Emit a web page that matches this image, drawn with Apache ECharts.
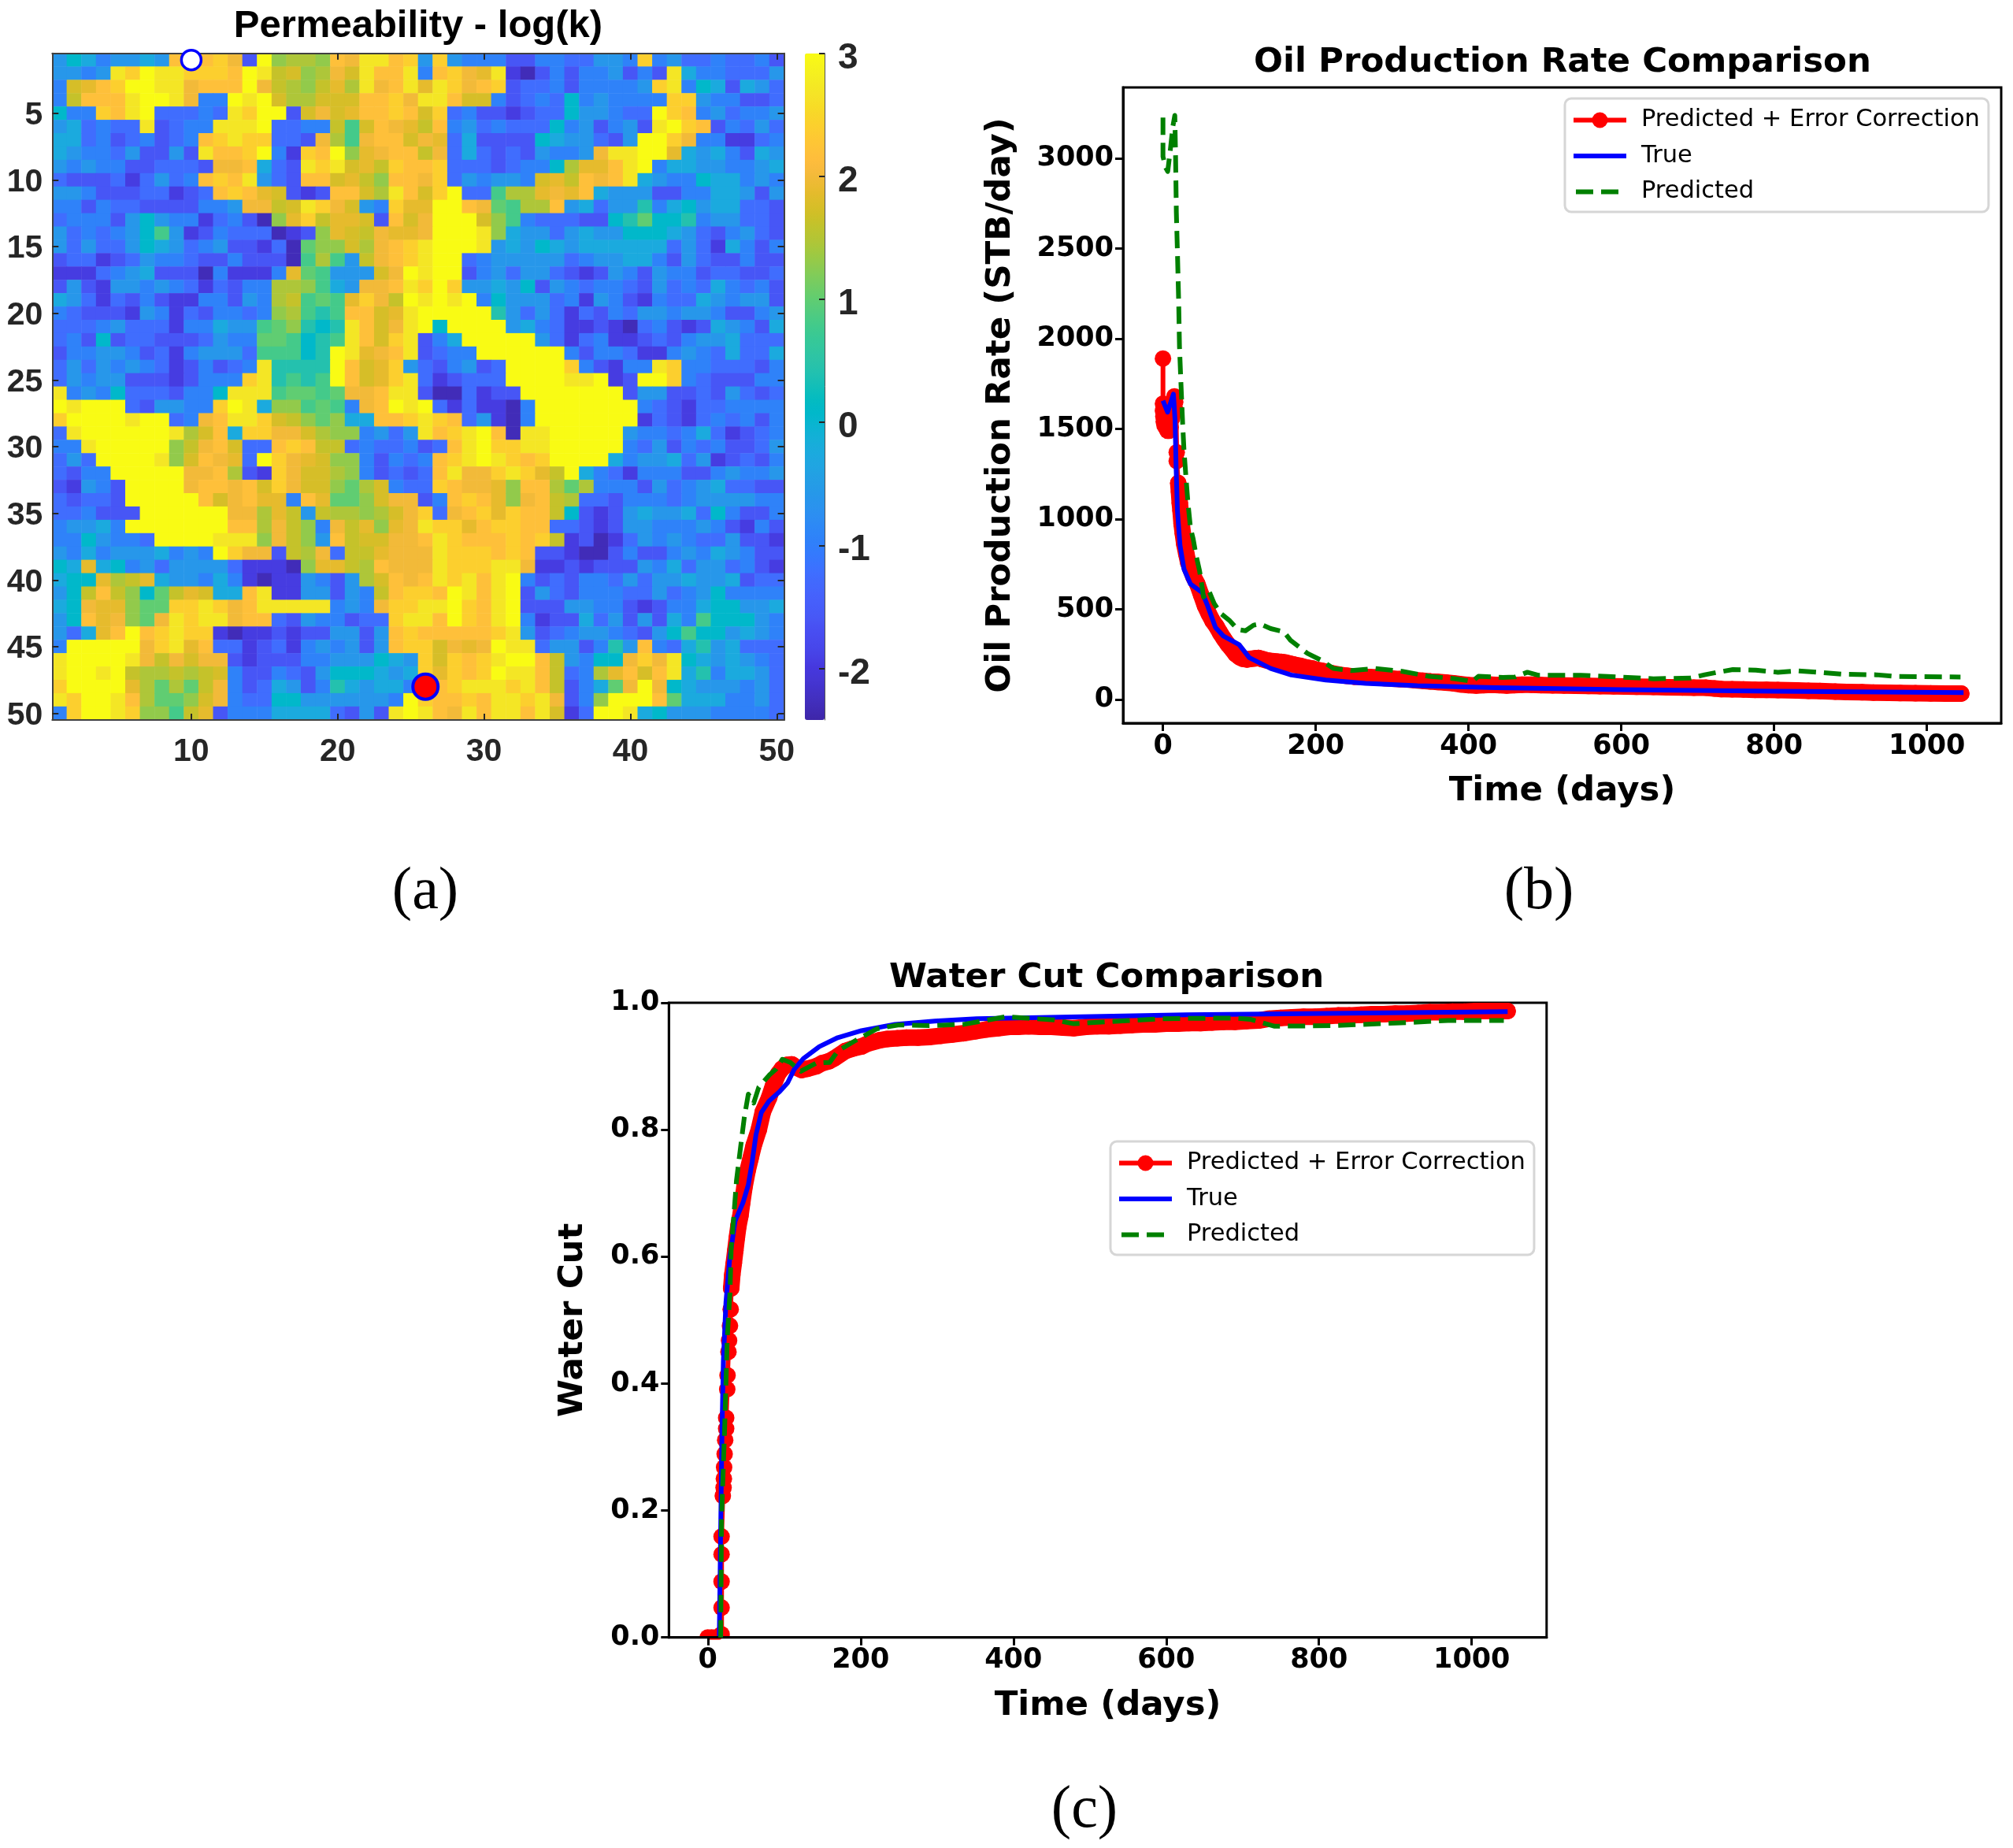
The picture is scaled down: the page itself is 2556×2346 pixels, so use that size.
<!DOCTYPE html>
<html><head><meta charset="utf-8">
<style>html,body{margin:0;padding:0;background:#fff}#c{width:2556px;height:2346px}</style>
<script src="https://cdn.jsdelivr.net/npm/echarts@6/dist/echarts.min.js"></script>
</head><body><div id="c"></div>
<script>
// ---- Permeability map: each letter is one cell; permLevels gives its log(k)
const permLevels = {A:-2.3,B:-1.95,C:-1.6,D:-1.25,E:-0.95,F:-0.6,G:-0.25,H:0.07,I:0.42,J:0.8,K:1.0,L:1.3,M:1.45,N:1.62,O:1.75,P:1.88,Q:2.0,R:2.18,S:2.4,T:2.7,U:3.0};
const permRows = [
"FHGEFFGFRSRSQCULMMLRQTTRS|FSFEEECCEEDDFFESEFDDEDDEC",
"FFEFTSUTTSSSRUTNOLMQOTRRT|ERSQPTBACECEEFCECTGEEDDDF",
"EOPRSUUTTQRRRUQNMLNPMTQRT|PTSQRSCDDECEEEEFSTEHGCGFD",
"ENRRRTUUTQEEUTUOMMOOORRSQ|TTROOECDEDHEFEEEESSFEECCD",
"HEESRTUDDDEDTSUUCOQOPRRSR|OSDECCBCDDHFFEDDUSREFDEEF",
"FGDEDDTCDEETTTUDDEENJORQP|NREFDEDDDHEFCEFCTUSRCEDFD",
"GGDECDECDERSTSSDDCQMJQRRO|QPDGCCCCHGFFDCFUUSQEEBBDE",
"GFEEDFCCFCTRRSUEBSRULPQRR|NQDGDCDCFEEFQTTUUPGFGECGF",
"FEFEECCDDDCQQRGDCTSTOPNSR|RSDDDCDEEHMPPRTUEGGFFEEFG",
"DCCCDBDFDERSRTFDCRROPNLRR|QSDFEFFEOPNRQRTGFEEHGGEFE",
"FFECCCDDBCDRSRPOCBCRROMTR|OSUDDJMMPQPRGFFFCCEEGGFCF",
"EECEDDCCCCEEFQQNOTSQOFESP|PUURQKJMMRFGDFFIEGHFGGDDC",
"DEEECFHFEEBDECALPSNPPOCRO|QUUUOLJEDDDCCHIKHHIEFFDDC",
"FDEDEFHJFBCEDDDABCLPONQPP|QUUUTLGFFDFGFFHHHGFDCEFDC",
"FDFDDFHGFDEFCCBDAKLLOMQRS|TUUUTFGFHGFGGGGGGDFDBGECE",
"CDDBCDFEEDCCECCCAJMJFNQRS|TUUDEFFFFFDEFFGGECFDCCECC",
"BBBDEFGCCCAEBBBEPKJFFFOQU|TUUCEFDFFDCBCFECFEECDDCCD",
"CFCBFFEFEDBDCEEMMLJGFQQRT|SUSFFGFHCFEDEEDCFDEDGEDEC",
"GFDBDCECBBEECFEMNJKJPSQNU|TUTUEHFFFDEBFECBEDDGFEFFC",
"EDCCCBFEBDCEEDELMJIJRROPT|UUUUUIFDFDBDCEDFFEFFECCEF",
"DDDEFDDDBEEGFFJKLIHITROQT|UHUUUUFGEDBBCBADECBCGFECG",
"DECHCDDCCCDFEEKKJHIJTROST|CEGUUUUUFDBDEBBCDCEFFGDDD",
"CEEFFECDBEFFFDJJJHIUTPQRT|CDEEUUUUUUECEEDBBEFEDGDDG",
"DFDFEFEDBCECDETIIIIUROPSF|DCEFCDUUUUSECBEETSEEDDDCE",
"DFEFFCCCBCEEESTIJIJUROPST|DBCDDDUUUUTTUBCUUSEDCCCEE",
"TEFEHDDDCEEHTTTJKKJKQQRTT|CAADBCCUUUUUUUCFFCCDCFDCD",
"UTUUUDCFFEESUTGLLJKJEQRUT|UDBDBBAEUUUUUUUEDCBDDEEEE",
"SUUUUTUUDEQRTTSONLKLGGRRS|TSRDFBAEUUUUUUUBDCBDEDECE",
"DTUUUUUUTMORGSSQQOMLLEFDF|TRSTURATTUUUUUFEEDEGDBCDE",
"EETUUUUULNQRODDRSRNNDEDDE|CDRTUSSTTUUUUUEDFCEDECCDF",
"DFDUUUUTLORQPDUSQPOLLECED|ERSTUTSRSUUUUGEFFGDFBCDCE",
"DCEEUUUUUQQRMCBSQOOMLECDC|DRTQQSTSPNUGEDBEEECCEFEEF",
"CBFECUUUUQRRQROSQOOLKMOED|DSRQQPLRRMKMEEECFDEFGDDCC",
"DCDDCUUUUUROQRPPERPKKLOQQ|CERSRPLQRNMDDCEEEDEFFFFEE",
"DDECCCUUUUUUQQMPNFNMMLMOQ|SDQRSPSRRNHCBCFGFFGDHECCE",
"EFFGEUUUUUUURRMQNLEQNPLPQ|TSSPRSSRRDDCBCFFEEEFECBEC",
"EEHFEEDUUUUTTTLQNLFRNOOQQ|RTSRRRSRSNBCABDFEFEDDFCCB",
"FEGEFFFGEFEUSQQCNMQDNNPQQ|QTSSSRSRCCBAACECCEFEGFECC",
"HGPGHEFDFFFFDBBBALPPNMRQQ|QTSSSTTQBBCBCCCFEGDFFDECB",
"GHHPMNPGFFEGEBABBFECFMORQ|RTSTRTUECDCEEDFDFFGFFGCDD",
"FHNRNLHKNPOGGRTBBFFCFENRS|SRUTRTUCFDCEEEDDFDEFHEEEE",
"GHQPPLKKSSTSQRTTTTTEFEQSS|TTUSRTUCCCFFEECBCEEGHHFFG",
"FHRPQLKQTSTTQRRDCFEECDDST|TRUSRTUEBCCGDFCFCGEJHHHFE",
"FDGPRURSTSSBABBCBCCFFCFRS|RRRRRSTFCDEFFEDCFHJHHFGFE",
"EUUUUUQSTPRDDBCDBEFEFCFRS|SOQPQUTTDFFCEIFREDGIFGDDD",
"TUUUUTQNQOQQCBCCCEEFFFHGF|SOSRSTUURNFEHHQSQTHGFGFED",
"TUUTUNMMNMNOECCEDCFHHHGFG|SPSRSUTTRNDEMPRORTGIEGGFD",
"SUUUUPMKMKNQECDGFCEIGFGGE|SRSTTTSTRNCEGKQUQHGFFFEFD",
"TSUUTRMKKLOQEDDHHFFFFFFEU|SRRSRTTSTQCELUUURKGGGEEFD",
"ESUUTSLLJNPCEEEGGGGDCFCTU|TRQTRTTRTOBDUUTGHFFFEEEED"
];
const injectorWell = [10, 1];
const producerWell = [26, 48];
const permMin = -2.42, permMax = 3;
const permBarTicks = [3, 2, 1, 0, -1, -2];
const parula = ["#3e26a8","#402ab4","#4230bf","#4332cb","#4537d5","#4638de","#4741e5","#4747eb","#484cf0","#4852f4","#475af7","#465efb","#4563fc","#4269fd","#3e6fff","#3875fe","#327cfc","#2f81f9","#2d87f7","#2d8cf3","#2b92ef","#2796eb","#259be7","#239fe4","#20a5e2","#1ca9df","#18adda","#11b1d6","#08b5d0","#01b8ca","#02bac3","#0bbdbc","#19bfb5","#24c1ae","#2cc3a7","#31c69f","#37c897","#3fca8e","#4acb84","#57cc7a","#63cd6f","#72cc64","#80cc59","#8fca4e","#9dc942","#aec639","#b9c431","#c5c22a","#d1bf27","#dcbd29","#e6bb2d","#efba36","#f8ba3d","#febd3c","#fec338","#fec833","#fccf2e","#f9d52a","#f7dc26","#f5e327","#f4e924","#f5ef20","#f7f51b","#f9fb14"];
const mapAxisValues = Array.from({length: 50}, (_, i) => String(i + 1));

// ---- Oil production rate, [day, STB/day]
const oilRedPoints = [[0,1890],[0,1640],[0,1600],[0.5,1570],[1,1540],[2,1520],[4,1505],[6,1490],[8,1490],[10,1510],[12,1560],[14,1640],[15,1680],[16,1650],[17,1600],[18,1370],[18,1322],[20,1200],[21,1150],[22,1090],[23,1047],[24.4,975],[26,920],[28,860],[30.6,807],[33,760],[36,725],[40,680],[45,640],[50,580],[55,520],[60,475],[65,435],[70,405],[75,368],[80,335],[85,305],[90,280],[95,252],[100,235],[105,225],[110,222],[115,225],[120,228],[125,230],[130,224],[135,218],[140,214],[145,212],[150,210],[155,208],[160,205],[165,200],[170,195],[175,190],[180,186],[185,180],[190,176],[195,172],[200,166],[210,157],[220,146],[230,138],[240,132],[250,127],[260,125],[270,124],[280,122],[290,119],[300,116],[310,113],[320,111],[330,107],[340,104],[350,100],[360,97],[370,94],[380,90],[390,84],[400,80],[410,78],[420,80],[430,82],[440,80],[450,78],[460,80],[470,82],[482,82],[495,80],[510,79],[525,78],[540,76],[557,75],[572,74],[590,73],[605,72],[620,71],[642,70],[660,68],[680,67],[695,66],[711,65],[722,61],[731,58],[745,57],[760,56],[775,54],[790,53],[805,52],[830,50],[845,48],[860,47],[880,44],[895,42],[915,40],[930,38],[950,37],[965,36],[985,35],[1005,34],[1025,33],[1045,33]];
const oilTruePoints = [[0,1657],[6,1593],[13.7,1693],[15.8,1550],[17.2,1286],[18.9,1047],[22.3,855],[27.5,723],[36,640],[51.5,592],[58.4,520],[68.7,400],[79,352],[99.7,304],[113,232],[141,172],[168,136],[213,108],[265,90],[333,76],[436,66],[600,55],[800,46],[1048,38]];
const oilPredPoints = [[0,3226],[0,3010],[3.4,2950],[6.2,2927],[9.6,3046],[13,3178],[15.5,3238],[16.5,3010],[17.5,2700],[18.9,2484],[20.6,2196],[21.6,1957],[23.4,1765],[25.8,1526],[27.5,1382],[30,1238],[32.6,1095],[36,951],[39.5,891],[43,807],[48,711],[51.5,616],[53,568],[60,604],[67,532],[75.6,477],[87.6,436],[98,388],[108,381],[118.6,412],[127,419],[141,393],[158,376],[167,328],[189,256],[206,220],[223,172],[247,160],[278,172],[313,156],[348,129],[383,115],[405,100],[413,129],[445,122],[461,125],[477,151],[492,134],[547,134],[582,128],[642,115],[691,119],[709,137],[726,151],[746,166],[776,163],[805,151],[830,159],[865,149],[890,140],[934,137],[959,128],[1044,125]];
const oilXTicks = [0,200,400,600,800,1000];
const oilYTicks = [0,500,1000,1500,2000,2500,3000];

// ---- Water cut, [day, fraction]
const wcRedPoints = [[0,0],[5,0],[10,0],[15,0],[18,0.005],[18,0.047],[18,0.088],[18,0.131],[18,0.159],[19.6,0.223],[20.6,0.236],[21,0.25],[21.3,0.268],[22,0.289],[22.7,0.311],[24,0.329],[24,0.346],[25.4,0.391],[25.8,0.413],[27,0.45],[27.8,0.468],[29,0.491],[29.9,0.517],[30.6,0.55],[32,0.571],[34,0.59],[36,0.61],[38,0.63],[40,0.648],[42.6,0.664],[45,0.685],[48,0.71],[52,0.735],[56,0.755],[60,0.775],[66.7,0.8],[72,0.828],[80,0.85],[85,0.868],[92,0.888],[97,0.896],[103,0.902],[110,0.903],[116,0.898],[123,0.894],[130,0.896],[142,0.9],[150,0.905],[159,0.908],[165,0.912],[180,0.924],[190,0.928],[201,0.931],[210,0.936],[225,0.941],[235,0.943],[248,0.944],[260,0.945],[275,0.945],[290,0.946],[305,0.948],[320,0.95],[335,0.952],[350,0.955],[365,0.958],[380,0.96],[395,0.962],[406,0.962],[420,0.963],[435,0.962],[450,0.962],[465,0.961],[479,0.96],[495,0.962],[510,0.963],[525,0.963],[540,0.964],[555,0.965],[570,0.966],[585,0.966],[600,0.967],[615,0.967],[630,0.968],[645,0.968],[660,0.969],[675,0.97],[690,0.97],[705,0.971],[721,0.972],[735,0.975],[750,0.976],[765,0.977],[780,0.978],[795,0.978],[810,0.979],[825,0.98],[840,0.98],[855,0.981],[870,0.982],[885,0.982],[900,0.983],[915,0.983],[930,0.984],[945,0.985],[960,0.985],[975,0.986],[990,0.986],[1005,0.987],[1020,0.987],[1035,0.987],[1047,0.987]];
const wcTruePoints = [[15,0],[17,0.186],[18.6,0.329],[20.3,0.435],[23.7,0.528],[28.9,0.6],[35.7,0.656],[46,0.685],[53,0.713],[58,0.749],[63,0.792],[70,0.827],[80,0.845],[94,0.86],[104.5,0.874],[113,0.895],[125,0.912],[146,0.931],[170,0.945],[201,0.956],[245,0.966],[297,0.971],[352,0.975],[626,0.981],[1047,0.986]];
const wcPredPoints = [[16.8,0],[17.9,0.186],[22,0.329],[25.4,0.471],[28.9,0.542],[30.6,0.614],[34,0.664],[37.5,0.72],[42.6,0.77],[47.8,0.82],[53,0.856],[60,0.842],[66.7,0.867],[80.4,0.886],[89,0.895],[97.6,0.911],[108,0.906],[121.6,0.892],[142,0.905],[159.5,0.906],[170,0.924],[194,0.941],[221,0.959],[249,0.965],[290,0.964],[335,0.966],[390,0.978],[453,0.973],[479,0.967],[595,0.975],[689,0.976],[710,0.974],[742,0.963],[816,0.964],[900,0.968],[969,0.972],[1042,0.972]];
const wcXTicks = [0,200,400,600,800,1000];
const wcYTicks = [0,0.2,0.4,0.6,0.8,1.0];
const legendNames = ["Predicted + Error Correction","True","Predicted"];
const captions = ["(a)","(b)","(c)"];

// ---- assemble
const permCells = [];
permRows.forEach((row, r) => {
  row.replace("|", "").split("").forEach((ch, c) => permCells.push([c, r, permLevels[ch]]));
});
// the parts of the red series where the markers run together into a solid band
const oilRedBand = oilRedPoints.filter(p => p[0] >= 20);
const wcRedBand = wcRedPoints.filter(p => p[0] >= 30.6);
const MAT = '"Liberation Sans", Arial, sans-serif', MPL = '"DejaVu Sans", sans-serif';
const matDark = '#262626';
const every = n => (i) => (i + 1) % n === 0;
const mapXAxis = (pos, labels) => ({gridIndex:0, type:'category', position:pos, data:mapAxisValues, z:5, boundaryGap:true,
  axisLine:{show:true,onZero:false,lineStyle:{color:'#404040',width:2}},
  axisTick:{show:true,inside:true,length:8,alignWithLabel:true,interval:every(10),lineStyle:{color:matDark,width:2}},
  axisLabel:{show:labels,interval:every(10),fontFamily:MAT,fontWeight:'bold',fontSize:41,color:matDark,margin:20},splitLine:{show:false}});
const mapYAxis = (pos, labels) => ({gridIndex:0, type:'category', position:pos, inverse:true, data:mapAxisValues, z:5, boundaryGap:true,
  axisLine:{show:true,onZero:false,lineStyle:{color:'#404040',width:2}},
  axisTick:{show:true,inside:true,length:8,alignWithLabel:true,interval:every(5),lineStyle:{color:matDark,width:2}},
  axisLabel:{show:labels,interval:every(5),fontFamily:MAT,fontWeight:'bold',fontSize:41,color:matDark,margin:12,verticalAlign:'top',lineHeight:6},splitLine:{show:false}});
const plotAxis = (grid, min, max, ticks, name, gap, fmt) => ({gridIndex:grid, type:'value', min, max, z:5, name, nameLocation:'middle', nameGap:gap,
  nameTextStyle:{fontFamily:MPL,fontWeight:'bold',fontSize:43.5,color:'#000'},
  axisLine:{show:true,onZero:false,lineStyle:{color:'#000',width:3}},
  axisTick:{show:true,length:10,customValues:ticks,lineStyle:{color:'#000',width:3}},
  axisLabel:{show:true,customValues:ticks,fontFamily:MPL,fontWeight:'bold',fontSize:35,color:'#000',margin:12,hideOverlap:false,showMinLabel:true,showMaxLabel:true,formatter:fmt},
  splitLine:{show:false}});
const gridBox = (left, top, width, height) => ({left, top, width, height, show:true, backgroundColor:'#fff', borderColor:'#000', borderWidth:3});
const lineSeries = (name, idx, data, color, z, extra) => Object.assign({type:'line', name, xAxisIndex:idx, yAxisIndex:idx, data, z, animation:false,
  lineStyle:{color,width:6,cap:'butt',join:'round'}, itemStyle:{color}, symbol:'none', showSymbol:false, clip:true, silent:true}, extra||{});
const bandSeries = (idx, data) => ({type:'line', xAxisIndex:idx, yAxisIndex:idx, data, z:3, animation:false, silent:true, symbol:'none', showSymbol:false,
  lineStyle:{color:'#ff0000',width:21,cap:'round',join:'round'}});
const dash = c => ({color:c,width:6,type:[22,10],cap:'butt',join:'round'});
const legendData = [
  {name:legendNames[0], lineStyle:{width:6,color:'#ff0000',cap:'butt'}},
  {name:legendNames[1], itemStyle:{opacity:0}, lineStyle:{width:6,color:'#0000ff',cap:'butt'}},
  {name:legendNames[2], itemStyle:{opacity:0}, lineStyle:{width:6,color:'#008000',type:[22,10],cap:'butt',dashOffset:-3}}
];
const legendAt = (left, top) => ({show:true, orient:'vertical', left, top, data:legendData, itemWidth:67, itemHeight:25, itemGap:14.5,
  padding:[12,11,10,8], backgroundColor:'#fff', borderColor:'#d6d6d6', borderWidth:3, borderRadius:8, selectedMode:false,
  textStyle:{fontFamily:MPL,fontSize:30.5,lineHeight:30,color:'#000',padding:[0,0,0,14]}, z:20});
const capTitle = (text, x, y) => ({text, left:x, top:y, textAlign:'center', textStyle:{fontFamily:'"Liberation Serif", serif',fontSize:76,fontWeight:'normal',color:'#000'}});
const plotTitle = (text, x, y, fam, size) => ({text, left:x, top:y, textAlign:'center', textStyle:{fontFamily:fam,fontSize:size,fontWeight:'bold',color:'#000'}});

const option = {
  animation:false, backgroundColor:'#fff',
  title:[
    plotTitle('Permeability - log(k)', 526, 4, MAT, 49),
    plotTitle('Oil Production Rate Comparison', 1979, 53, MPL, 43.5),
    plotTitle('Water Cut Comparison', 1400, 1215, MPL, 43.5),
    capTitle(captions[0], 535, 1090), capTitle(captions[1], 1949, 1090), capTitle(captions[2], 1372, 2256)
  ],
  grid:[
    {left:66.3, top:67.7, width:929.3, height:846.3},
    {left:1022, top:67.7, width:25, height:846.3},
    gridBox(1426, 111, 1115, 807),
    gridBox(849.3, 1273, 1114.5, 805.7)
  ],
  xAxis:[
    mapXAxis('bottom', true), mapXAxis('top', false),
    {gridIndex:1, type:'value', min:0, max:1, show:false},
    plotAxis(2, -52.25, 1097.25, oilXTicks, 'Time (days)', 65, v => String(v)),
    plotAxis(3, -51, 1098, wcXTicks, 'Time (days)', 65, v => String(v))
  ],
  yAxis:[
    mapYAxis('left', true), mapYAxis('right', false),
    {gridIndex:1, type:'value', min:permMin, max:permMax, position:'right', z:5,
     axisLine:{show:true,onZero:false,lineStyle:{color:'#555',width:1}},
     axisTick:{show:true,inside:true,length:7,customValues:permBarTicks,lineStyle:{color:matDark,width:2}},
     axisLabel:{show:true,customValues:permBarTicks,fontFamily:MAT,fontWeight:'bold',fontSize:46,color:matDark,margin:17,verticalAlign:'top',lineHeight:13},splitLine:{show:false}},
    plotAxis(2, -131, 3393, oilYTicks, 'Oil Production Rate (STB/day)', 133, v => String(v)),
    plotAxis(3, 0, 1, wcYTicks, 'Water Cut', 100, v => v.toFixed(1))
  ],
  visualMap:{type:'continuous', seriesIndex:0, min:permMin, max:permMax, left:1022, top:67.7, itemWidth:25, itemHeight:846.3, padding:0,
    calculable:false, realtime:false, text:null, showLabel:false, inRange:{color:parula}},
  legend:[legendAt(1987,125), legendAt(1410,1449)],
  series:[
    {type:'heatmap', xAxisIndex:0, yAxisIndex:0, data:permCells, z:2, silent:true, itemStyle:{borderWidth:0}, progressive:0, animation:false},
    {type:'scatter', xAxisIndex:0, yAxisIndex:0, z:8, symbol:'circle', symbolSize:25, data:[[injectorWell[0]-1, injectorWell[1]-1]], clip:false, silent:true,
      itemStyle:{color:'#fff',borderColor:'#0000ff',borderWidth:3.5,opacity:1}},
    {type:'scatter', xAxisIndex:0, yAxisIndex:0, z:8, symbol:'circle', symbolSize:32, data:[[producerWell[0]-1, producerWell[1]-1]], clip:false, silent:true,
      itemStyle:{color:'#ff0000',borderColor:'#0000ff',borderWidth:4,opacity:1}},

    bandSeries(3, oilRedBand),
    lineSeries(legendNames[0], 3, oilRedPoints, '#ff0000', 3, {symbol:'circle', symbolSize:21, showSymbol:true, showAllSymbol:true}),
    lineSeries(legendNames[1], 3, oilTruePoints, '#0000ff', 4),
    lineSeries(legendNames[2], 3, oilPredPoints, '#008000', 5, {lineStyle:dash('#008000')}),

    bandSeries(4, wcRedBand),
    {type:'custom', coordinateSystem:'cartesian2d', xAxisIndex:4, yAxisIndex:4, clip:true, z:3, silent:true, data:wcRedPoints,
      renderItem:(p, api) => { const c = api.coord([api.value(0), api.value(1)]);
        return {type:'circle', shape:{cx:c[0], cy:c[1], r:10.5}, style:{fill:'#ff0000'}}; }},
    lineSeries(legendNames[0], 4, wcRedPoints, '#ff0000', 3, {symbol:'circle', symbolSize:21, showSymbol:false}),
    lineSeries(legendNames[1], 4, wcTruePoints, '#0000ff', 4),
    lineSeries(legendNames[2], 4, wcPredPoints, '#008000', 5, {lineStyle:dash('#008000')})
  ]
};
const chart = echarts.init(document.getElementById('c'), null, {renderer:'canvas', width:2556, height:2346});
chart.setOption(option);
</script></body></html>
